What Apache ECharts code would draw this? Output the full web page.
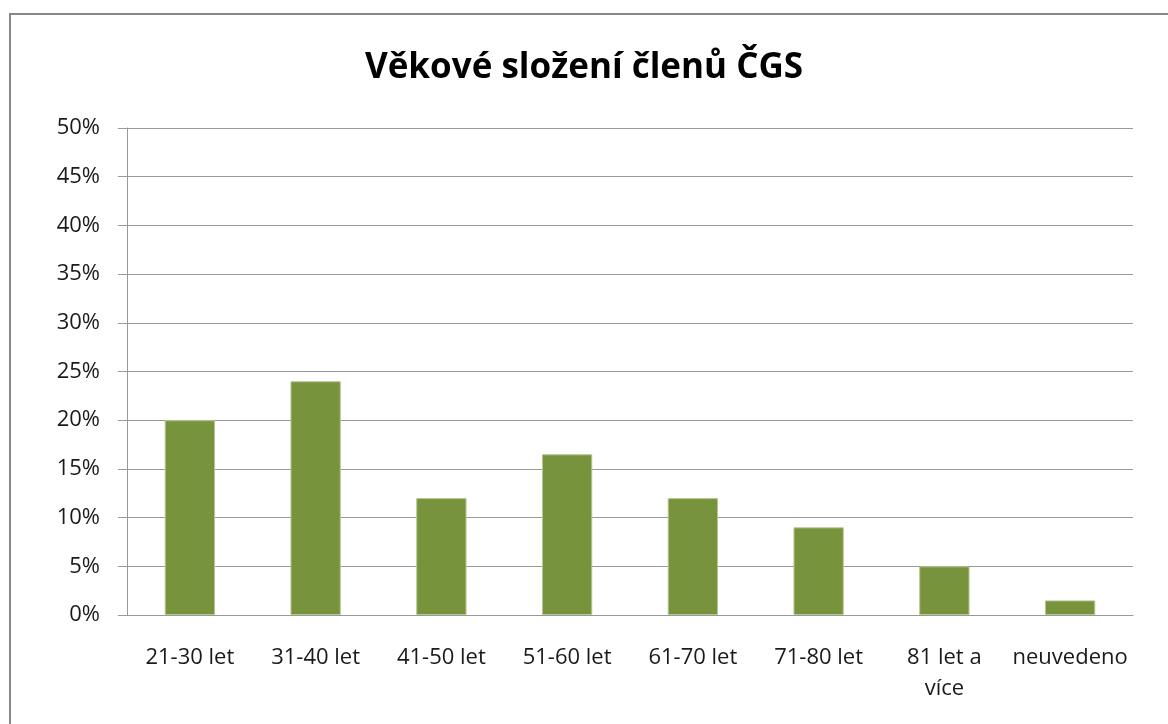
<!DOCTYPE html>
<html>
<head>
<meta charset="utf-8">
<script src="https://cdn.jsdelivr.net/npm/echarts@6/dist/echarts.min.js"></script>
<style>
  html, body { margin: 0; padding: 0; background: #fff; }
  #chart { width: 1168px; height: 724px; }
</style>
</head>
<body>
<div id="chart"></div>
<script>
// age groups and share of members (%)
const categories = ['21-30 let', '31-40 let', '41-50 let', '51-60 let', '61-70 let', '71-80 let', '81 let a\nvíce', 'neuvedeno']
const shares = [20, 24, 12, 16.5, 12, 9, 5, 1.5]
const titleText = 'Věkové složení členů ČGS'

let chart = echarts.init(document.getElementById('chart'))
chart.setOption({
  animation: false,
  textStyle: { fontFamily: 'Open Sans' },
  title: {
    text: titleText,
    left: 'center',
    top: 46,
    textStyle: { fontSize: 35, fontWeight: 'bold', color: '#000', fontFamily: 'Open Sans' }
  },
  graphic: [{
    type: 'rect',
    shape: { x: 10, y: 14, width: 1300, height: 900 },
    style: { fill: 'none', stroke: '#888', lineWidth: 2 },
    silent: true
  }],
  grid: { left: 127, right: 35, top: 128, bottom: 109 },
  xAxis: {
    type: 'category',
    data: categories,
    axisLine: { lineStyle: { color: '#999' } },
    axisTick: { length: 9, lineStyle: { color: '#999' } },
    axisLabel: { color: '#1a1a1a', fontSize: 22, margin: 27, lineHeight: 31, interval: 0 }
  },
  yAxis: {
    type: 'value',
    min: 0,
    max: 50,
    interval: 5,
    axisLine: { show: true, lineStyle: { color: '#999' } },
    axisTick: { show: true, length: 9, lineStyle: { color: '#999' } },
    splitLine: { lineStyle: { color: '#999' } },
    axisLabel: { color: '#1a1a1a', fontSize: 22, margin: 27, formatter: '{value}%' }
  },
  series: [{
    type: 'bar',
    data: shares,
    barWidth: '40%',
    itemStyle: { color: '#77933c', borderColor: '#b5c793', borderWidth: 1 }
  }]
})
</script>
</body>
</html>
